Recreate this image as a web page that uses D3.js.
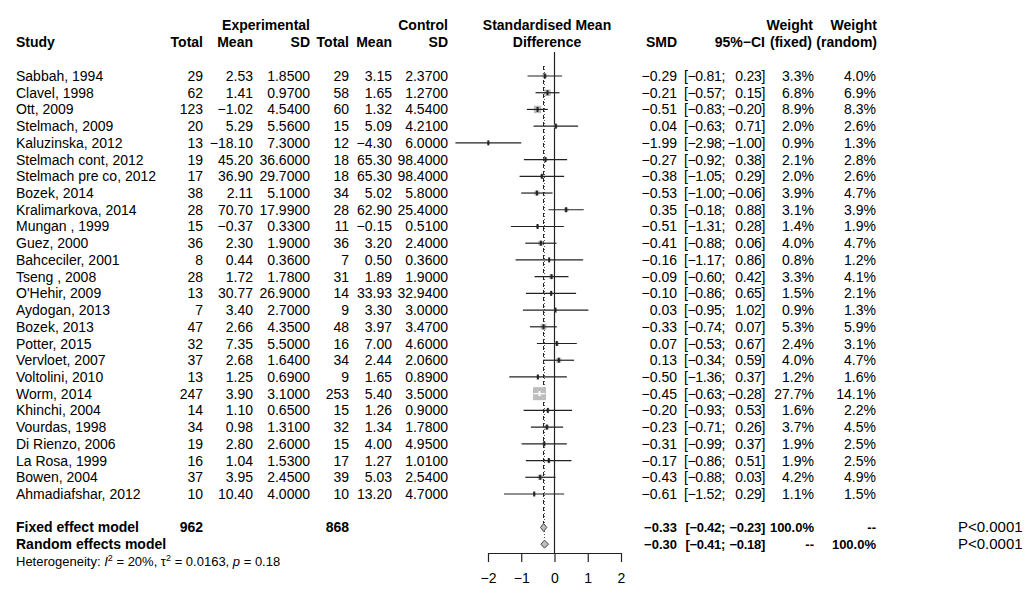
<!DOCTYPE html>
<html>
<head>
<meta charset="utf-8">
<script src="https://cdn.jsdelivr.net/npm/d3@7"></script>
<style>
  body { margin: 0; background: #fff; }
  svg { font-family: "Liberation Sans", Arial, Helvetica, sans-serif; }
  text { white-space: pre; }
</style>
</head>
<body>
<div id="chart"></div>
<script>
// Study data
const studies = ["Sabbah, 1994", "Clavel, 1998", "Ott, 2009", "Stelmach, 2009", "Kaluzinska, 2012",
  "Stelmach cont, 2012", "Stelmach pre co, 2012", "Bozek, 2014", "Kralimarkova, 2014", "Mungan , 1999",
  "Guez, 2000", "Bahceciler, 2001", "Tseng , 2008", "O'Hehir, 2009", "Aydogan, 2013", "Bozek, 2013",
  "Potter, 2015", "Vervloet, 2007", "Voltolini, 2010", "Worm, 2014", "Khinchi, 2004", "Vourdas, 1998",
  "Di Rienzo, 2006", "La Rosa, 1999", "Bowen, 2004", "Ahmadiafshar, 2012"];
const expTotal = [29, 62, 123, 20, 13, 19, 17, 38, 28, 15, 36, 8, 28, 13, 7, 47, 32, 37, 13, 247, 14, 34, 19, 16, 37, 10];
const expMean = [2.53, 1.41, -1.02, 5.29, -18.10, 45.20, 36.90, 2.11, 70.70, -0.37, 2.30, 0.44, 1.72, 30.77, 3.40, 2.66, 7.35, 2.68, 1.25, 3.90, 1.10, 0.98, 2.80, 1.04, 3.95, 10.40];
const expSD = [1.85, 0.97, 4.54, 5.56, 7.30, 36.60, 29.70, 5.10, 17.99, 0.33, 1.90, 0.36, 1.78, 26.90, 2.70, 4.35, 5.50, 1.64, 0.69, 3.10, 0.65, 1.31, 2.60, 1.53, 2.45, 4.00];
const ctlTotal = [29, 58, 60, 15, 12, 18, 18, 34, 28, 11, 36, 7, 31, 14, 9, 48, 16, 34, 9, 253, 15, 32, 15, 17, 39, 10];
const ctlMean = [3.15, 1.65, 1.32, 5.09, -4.30, 65.30, 65.30, 5.02, 62.90, -0.15, 3.20, 0.50, 1.89, 33.93, 3.30, 3.97, 7.00, 2.44, 1.65, 5.40, 1.26, 1.34, 4.00, 1.27, 5.03, 13.20];
const ctlSD = [2.37, 1.27, 4.54, 4.21, 6.00, 98.40, 98.40, 5.80, 25.40, 0.51, 2.40, 0.36, 1.90, 32.94, 3.00, 3.47, 4.60, 2.06, 0.89, 3.50, 0.90, 1.78, 4.95, 1.01, 2.54, 4.70];
const smd = [-0.29, -0.21, -0.51, 0.04, -1.99, -0.27, -0.38, -0.53, 0.35, -0.51, -0.41, -0.16, -0.09, -0.10, 0.03, -0.33, 0.07, 0.13, -0.50, -0.45, -0.20, -0.23, -0.31, -0.17, -0.43, -0.61];
const ciLow = [-0.81, -0.57, -0.83, -0.63, -2.98, -0.92, -1.05, -1.00, -0.18, -1.31, -0.88, -1.17, -0.60, -0.86, -0.95, -0.74, -0.53, -0.34, -1.36, -0.63, -0.93, -0.71, -0.99, -0.86, -0.88, -1.52];
const ciHigh = [0.23, 0.15, -0.20, 0.71, -1.00, 0.38, 0.29, -0.06, 0.88, 0.28, 0.06, 0.86, 0.42, 0.65, 1.02, 0.07, 0.67, 0.59, 0.37, -0.28, 0.53, 0.26, 0.37, 0.51, 0.03, 0.29];
const wFixed = [3.3, 6.8, 8.9, 2.0, 0.9, 2.1, 2.0, 3.9, 3.1, 1.4, 4.0, 0.8, 3.3, 1.5, 0.9, 5.3, 2.4, 4.0, 1.2, 27.7, 1.6, 3.7, 1.9, 1.9, 4.2, 1.1];
const wRandom = [4.0, 6.9, 8.3, 2.6, 1.3, 2.8, 2.6, 4.7, 3.9, 1.9, 4.7, 1.2, 4.1, 2.1, 1.3, 5.9, 3.1, 4.7, 1.6, 14.1, 2.2, 4.5, 2.5, 2.5, 4.9, 1.5];

// Pooled estimates: [smd, low, high]
const fixedModel = [-0.33, -0.42, -0.23];
const randomModel = [-0.30, -0.41, -0.18];
const totals = [962, 868];
const axisTicks = [-2, -1, 0, 1, 2];

const width = 1027, height = 603;

const svg = d3.select("#chart").append("svg")
  .attr("width", width)
  .attr("height", height);

const x = d3.scaleLinear().domain([-2, 2]).range([488, 621]);
const y = d3.scaleLinear().domain([0, 29]).range([76, 76 + 29 * 16.72]);
const boxSize = d3.scaleSqrt().domain([0, 27.7]).range([0, 13]);

const f2 = d3.format(".2f"), f4 = d3.format(".4f"), f1 = d3.format(".1f");

function txt(xp, yp, s, anchor, bold, size) {
  return svg.append("text")
    .attr("x", xp).attr("y", yp)
    .attr("text-anchor", anchor || "start")
    .attr("font-size", size || 14)
    .attr("font-weight", bold ? "bold" : "normal")
    .text(s);
}

// CI written in two right-aligned halves so the brackets line up
function ci(yb, lo, hi, bold, size) {
  txt(725, yb, "[" + f2(lo) + ";", "end", bold, size).attr("letter-spacing", -0.3);
  txt(765, yb, f2(hi) + "]", "end", bold, size).attr("letter-spacing", -0.3);
}

// column headers
txt(310, 30, "Experimental", "end", true);
txt(448, 30, "Control", "end", true);
txt(547, 30, "Standardised Mean", "middle", true);
txt(813, 30, "Weight", "end", true);
txt(877, 30, "Weight", "end", true);
txt(16, 47, "Study", "start", true);
txt(203, 47, "Total", "end", true);
txt(253, 47, "Mean", "end", true);
txt(310, 47, "SD", "end", true);
txt(349, 47, "Total", "end", true);
txt(392, 47, "Mean", "end", true);
txt(448, 47, "SD", "end", true);
txt(547, 47, "Difference", "middle", true);
txt(677, 47, "SMD", "end", true);
txt(765, 47, "95%\u2212CI", "end", true);
txt(812, 47, "(fixed)", "end", true);
txt(877, 47, "(random)", "end", true);

// study rows
studies.forEach((s, i) => {
  const yb = y(i) + 5;
  txt(16, yb, s);
  txt(203, yb, expTotal[i], "end");
  txt(253, yb, f2(expMean[i]), "end");
  txt(310, yb, f4(expSD[i]), "end");
  txt(349, yb, ctlTotal[i], "end");
  txt(392, yb, f2(ctlMean[i]), "end");
  txt(448, yb, f4(ctlSD[i]), "end");
  txt(677, yb, f2(smd[i]), "end");
  ci(yb, ciLow[i], ciHigh[i]);
  txt(814, yb, f1(wFixed[i]) + "%", "end");
  txt(876, yb, f1(wRandom[i]) + "%", "end");
});

// summary rows
const yF = y(27), yR = y(28);
txt(16, yF + 5, "Fixed effect model", "start", true);
txt(203, yF + 5, totals[0], "end", true);
txt(349, yF + 5, totals[1], "end", true);
txt(677, yF + 5, f2(fixedModel[0]), "end", true, 13);
ci(yF + 5, fixedModel[1], fixedModel[2], true, 13);
txt(814, yF + 5, "100.0%", "end", true, 13);
txt(876, yF + 5, "--", "end", true, 13);
txt(16, yR + 5, "Random effects model", "start", true);
txt(677, yR + 5, f2(randomModel[0]), "end", true, 13);
ci(yR + 5, randomModel[1], randomModel[2], true, 13);
txt(814, yR + 5, "--", "end", true, 13);
txt(876, yR + 5, "100.0%", "end", true, 13);
txt(958, yF + 5, "P<0.0001", "start", false, 15);
txt(958, yR + 5, "P<0.0001", "start", false, 15);

// heterogeneity
const het = txt(16, y(29) + 5, "", "start", false, 13);
het.append("tspan").text("Heterogeneity: ");
het.append("tspan").attr("font-style", "italic").text("I");
het.append("tspan").attr("font-size", 9).attr("dy", -5).text("2");
het.append("tspan").attr("dy", 5).text(" = 20%, \u03c4");
het.append("tspan").attr("font-size", 9).attr("dy", -5).text("2");
het.append("tspan").attr("dy", 5).text(" = 0.0163, ");
het.append("tspan").attr("font-style", "italic").text("p");
het.append("tspan").text(" = 0.18");

// reference lines
svg.append("line")
  .attr("x1", x(0)).attr("x2", x(0))
  .attr("y1", 52).attr("y2", 553)
  .attr("stroke", "#222").attr("stroke-width", 1.2);
svg.append("line")
  .attr("x1", x(fixedModel[0])).attr("x2", x(fixedModel[0]))
  .attr("y1", 66).attr("y2", yF - 4)
  .attr("stroke", "#222").attr("stroke-width", 1)
  .attr("stroke-dasharray", "4,3");
svg.append("line")
  .attr("x1", x(randomModel[0])).attr("x2", x(randomModel[0]))
  .attr("y1", 66).attr("y2", yR - 4)
  .attr("stroke", "#555").attr("stroke-width", 1)
  .attr("stroke-dasharray", "1,2");

// study marks
const rows = svg.append("g").selectAll("g")
  .data(studies.map((s, i) => ({ i, est: smd[i], lo: ciLow[i], hi: ciHigh[i], w: wFixed[i] })))
  .join("g")
  .attr("transform", d => `translate(0,${y(d.i)})`);

rows.append("rect")
  .attr("x", d => x(d.est) - boxSize(d.w) / 2)
  .attr("y", d => -boxSize(d.w) / 2)
  .attr("width", d => boxSize(d.w))
  .attr("height", d => boxSize(d.w))
  .attr("fill", "#bdbdbd");

// line colour goes white when the CI sits inside the box
const inside = d => (x(d.hi) - x(d.lo)) < boxSize(d.w);
rows.append("line")
  .attr("x1", d => x(d.lo))
  .attr("x2", d => x(d.hi))
  .attr("stroke", d => inside(d) ? "#fff" : "#222")
  .attr("stroke-width", 1.2);
rows.append("rect")
  .attr("x", d => x(d.est) - 1)
  .attr("y", -2.5)
  .attr("width", 2)
  .attr("height", 5)
  .attr("fill", d => inside(d) ? "#fff" : "#222");

// diamonds
[[fixedModel, yF], [randomModel, yR]].forEach(([m, yy]) => {
  svg.append("path")
    .attr("d", `M${x(m[1])},${yy} L${x(m[0])},${yy - 4} L${x(m[2])},${yy} L${x(m[0])},${yy + 4} Z`)
    .attr("fill", "#bdbdbd")
    .attr("stroke", "#444")
    .attr("stroke-width", 1);
});

// x axis
const axis = svg.append("g")
  .attr("transform", "translate(0,553)")
  .call(d3.axisBottom(x).tickValues(axisTicks).tickSize(9).tickSizeOuter(0).tickFormat(d3.format("d")));
axis.select(".domain").attr("stroke", "#222").attr("stroke-width", 1.2);
axis.selectAll(".tick line").attr("stroke", "#222").attr("stroke-width", 1.2);
axis.selectAll(".tick text")
  .attr("font-size", 14)
  .attr("font-family", "\"Liberation Sans\", Arial, sans-serif")
  .attr("fill", "#000")
  .attr("dy", "1.3em");
</script>
</body>
</html>
